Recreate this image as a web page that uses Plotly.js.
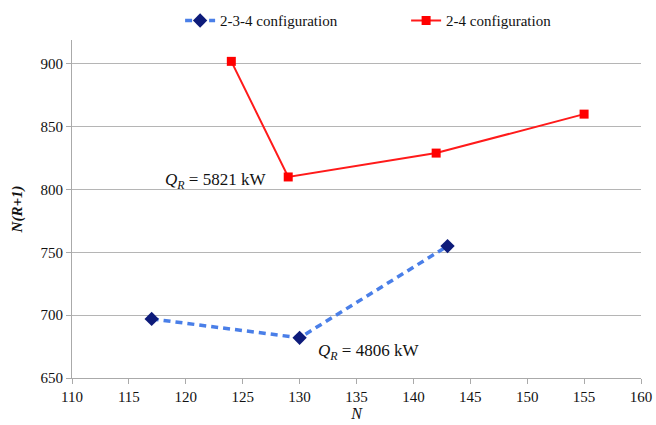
<!DOCTYPE html>
<html>
<head>
<meta charset="utf-8">
<script src="https://cdn.plot.ly/plotly-3.0.1.min.js"></script>
<style>html,body{margin:0;padding:0;background:#fff;}#chart{width:656px;height:425px;}</style>
</head>
<body>
<div id="chart"></div>
<script>
const seriesNames = ["2-3-4 configuration", "2-4 configuration"];
const x234 = [117, 130, 143];
const y234 = [697, 682, 755];
const x24 = [124, 129, 142, 155];
const y24 = [902, 810, 829, 860];
const xTicks = [110, 115, 120, 125, 130, 135, 140, 145, 150, 155, 160];
const yTicks = [650, 700, 750, 800, 850, 900];
const notes = [
  {x: 129, y: 810, text: "<i>Q<sub>R</sub></i> = 5821 kW"},
  {x: 130, y: 682, text: "<i>Q<sub>R</sub></i> = 4806 kW"}
];

const serif = "Times New Roman";

const traces = [
  {x: x234, y: y234, name: seriesNames[0], type: "scatter", mode: "lines+markers",
   line: {color: "#4a7fe8", width: 3.5, dash: "7px,5px"},
   marker: {symbol: "diamond", size: 11, color: "#0d1b7a"}},
  {x: x24, y: y24, name: seriesNames[1], type: "scatter", mode: "lines+markers",
   line: {color: "#ff1a1a", width: 2},
   marker: {symbol: "square", size: 9, color: "#ff0000"}}
];

const layout = {
  width: 656, height: 425,
  margin: {l: 72, r: 15, t: 40, b: 47},
  paper_bgcolor: "#fff", plot_bgcolor: "#fff",
  font: {family: serif, size: 14, color: "#111"},
  showlegend: true,
  legend: {orientation: "h", x: 0.19, xanchor: "left", yref: "container", y: 0.99, yanchor: "top",
           font: {family: serif, size: 15, color: "#111"},
           entrywidth: 181, entrywidthmode: "pixels"},
  xaxis: {range: [110, 160], tickvals: xTicks, ticks: "outside", ticklen: 5, tickcolor: "#aaa",
          tickfont: {family: serif, size: 15, color: "#111"},
          showline: true, linecolor: "#aaa", linewidth: 1, showgrid: false, zeroline: false,
          title: {text: "<i>N</i>", font: {family: serif, size: 16, color: "#111"}, standoff: 2}},
  yaxis: {range: [650, 919], tickvals: yTicks, ticks: "outside", ticklen: 5, tickcolor: "#aaa",
          tickfont: {family: serif, size: 15, color: "#111"},
          showline: true, linecolor: "#aaa", linewidth: 1, showgrid: true, gridcolor: "#b5b5b5",
          zeroline: false,
          title: {text: "<b><i>N(R+1)</i></b>", font: {family: serif, size: 15, color: "#111"}, standoff: 14}},
  annotations: [
    {x: notes[0].x, y: notes[0].y, xref: "x", yref: "y", text: notes[0].text, showarrow: false,
     xanchor: "right", yanchor: "middle", xshift: -20, yshift: -4, font: {family: serif, size: 17, color: "#111"}},
    {x: notes[1].x, y: notes[1].y, xref: "x", yref: "y", text: notes[1].text, showarrow: false,
     xanchor: "left", yanchor: "middle", xshift: 16, yshift: -14, font: {family: serif, size: 17, color: "#111"}}
  ]
};

Plotly.newPlot("chart", traces, layout, {displayModeBar: false, staticPlot: true});
</script>
</body>
</html>
